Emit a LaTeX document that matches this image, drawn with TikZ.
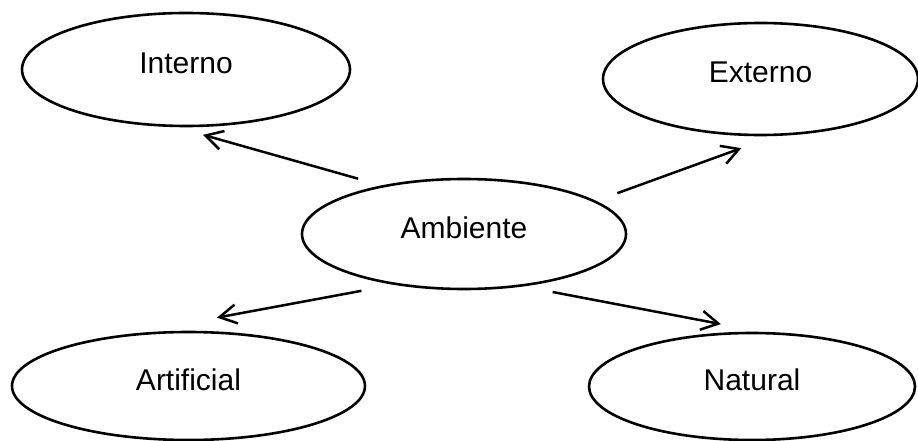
\documentclass[tikz,border=0pt]{standalone}
\usepackage{fontspec}
\setmainfont{Liberation Sans}
\usetikzlibrary{arrows.meta,shapes.geometric}
\tikzset{
  oval/.style={draw, ellipse, line width=2.6pt, inner sep=0pt, outer sep=0pt,
    text height=22pt, text depth=14pt,
    font=\fontsize{30}{36}\selectfont},
  arr/.style={line width=2.5pt, -{Straight Barb[length=17pt,width=19pt]}}
}
\begin{document}
\begin{tikzpicture}[x=1pt,y=-1pt]
\useasboundingbox (0,0) rectangle (918,441);
\node[oval, minimum width=328pt, minimum height=113pt] (int) at (186,69.5) {Interno};
\node[oval, minimum width=315pt, minimum height=112pt] (ext) at (760.5,79) {Externo};
\node[oval, minimum width=324pt, minimum height=110pt] (amb) at (464,234) {Ambiente};
\node[oval, minimum width=353pt, minimum height=108pt] (art) at (188.5,386) {Artificial};
\node[oval, minimum width=326pt, minimum height=107pt] (nat) at (752,386.5) {Natural};
\draw[arr, shorten <=27.2pt, shorten >=33.4pt] (amb.149.9) -- (int.255);
\draw[arr, shorten <=24.3pt, shorten >=39.6pt] (amb.14.15) -- (ext.288.6);
\draw[arr, shorten <=36.6pt, shorten >=115.7pt] (amb.217.8) -- (art.151.4);
\draw[arr, shorten <=33.8pt, shorten >=49.3pt] (amb.317.2) -- (nat.72.9);
\end{tikzpicture}
\end{document}
